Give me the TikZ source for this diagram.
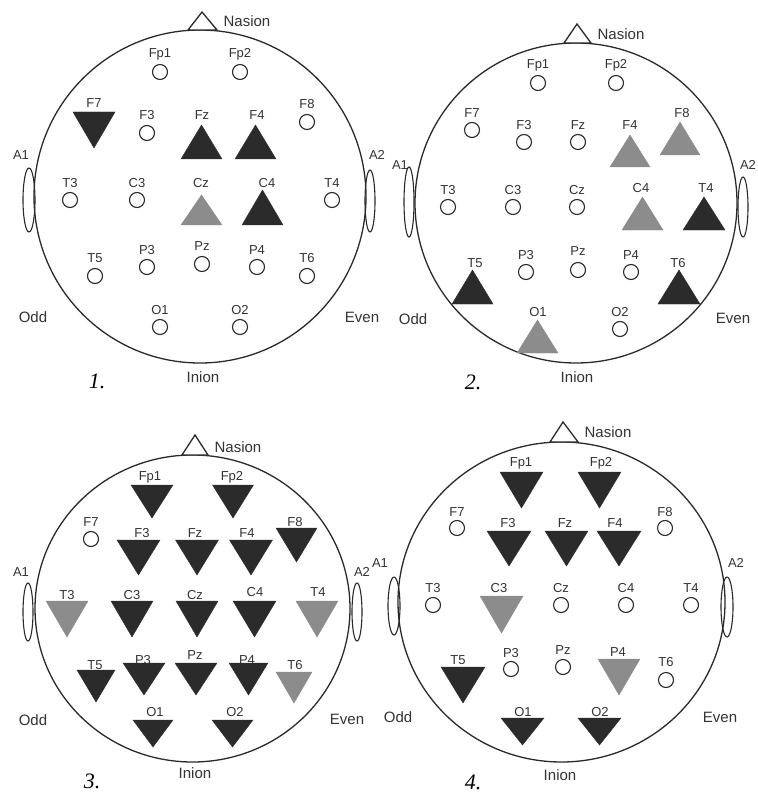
\documentclass[tikz,border=0pt]{standalone}
\usepackage{fontspec}
\setmainfont{Liberation Sans}
\newfontfamily\numfont{Liberation Serif}
\definecolor{dk}{HTML}{2B2B2B}
\definecolor{gr}{HTML}{8C8C8C}
\definecolor{ln}{HTML}{2A2A2A}
\definecolor{tx}{HTML}{333333}
\tikzset{
  lab/.style={inner sep=0pt, text=tx, font=\fontsize{13}{13}\selectfont},
  big/.style={inner sep=0pt, text=tx, font=\fontsize{15}{15}\selectfont},
  num/.style={inner sep=0pt, text=black, font=\numfont\itshape\fontsize{22}{22}\selectfont},
  elec/.style={circle, draw=ln, line width=1.1pt, minimum size=15pt, inner sep=0pt},
  head/.style={draw=ln, line width=1.3pt},
  ear/.style={draw=ln, line width=1.1pt},
  dkt/.style={fill=dk, draw=dk, line width=0.4pt},
  grt/.style={fill=gr, draw=gr, line width=0.4pt},
}
% electrode label + circle: name, x, label y, circle y, text
\newcommand{\ecl}[5]{\node[lab] (#1l) at (#2,#3) {#5}; \node[elec] (#1) at (#2,#4) {};}
% label only
\newcommand{\elb}[4]{\node[lab] (#1l) at (#2,#3) {#4};}
% up triangle: style, cx, half width, apex y, base y
\newcommand{\tup}[5]{\filldraw[#1] ({#2-#3},#5) -- (#2,#4) -- ({#2+#3},#5) -- cycle;}
% down triangle: style, cx, half width, top y, apex y
\newcommand{\tdn}[5]{\filldraw[#1] ({#2-#3},#4) -- ({#2+#3},#4) -- (#2,#5) -- cycle;}
\begin{document}
\begin{tikzpicture}[x=1pt,y=-1pt]
\useasboundingbox[fill=white] (0,0) rectangle (757,794);

%================ Panel 1
\draw[head] (200,196.5) ellipse[x radius=166pt, y radius=166.5pt];
\draw[head,fill=white] (188,30) -- (202,12) -- (217,30) -- cycle;
\node[big] (p1nas) at (247,21) {Nasion};
\draw[ear] (29,200) ellipse[x radius=6pt, y radius=32pt];
\draw[ear] (370,201) ellipse[x radius=5pt, y radius=31pt];
\node[lab] (p1a1) at (21,155) {A1};
\node[lab] (p1a2) at (377,155) {A2};
\node[big] (p1odd) at (33,317) {Odd};
\node[big] (p1even) at (362,317) {Even};
\node[big] (p1inion) at (203,377) {Inion};
\node[num] (p1num) at (97,381) {1.};
\tdn{dkt}{94}{21}{112}{148}
\tup{dkt}{201.5}{20.5}{125}{159}
\tup{dkt}{255.5}{20.5}{125}{159}
\tup{grt}{201.5}{20.5}{195}{225}
\tup{dkt}{262.5}{20.5}{190}{225}
\ecl{p1Fp1}{160}{54}{72}{Fp1}
\ecl{p1Fp2}{240}{54}{72}{Fp2}
\elb{p1F7}{94}{103}{F7}
\ecl{p1F3}{147}{115}{133}{F3}
\elb{p1Fz}{202}{115}{Fz}
\elb{p1F4}{257}{115}{F4}
\ecl{p1F8}{307}{104}{122}{F8}
\ecl{p1T3}{70}{183}{200}{T3}
\ecl{p1C3}{137}{183}{200}{C3}
\elb{p1Cz}{201}{183}{Cz}
\elb{p1C4}{267}{183}{C4}
\ecl{p1T4}{332}{183}{200}{T4}
\ecl{p1T5}{95}{258}{276}{T5}
\ecl{p1P3}{147}{250}{267}{P3}
\ecl{p1Pz}{202}{246}{264}{Pz}
\ecl{p1P4}{257}{250}{267}{P4}
\ecl{p1T6}{307}{258}{276}{T6}
\ecl{p1O1}{160}{310}{327}{O1}
\ecl{p1O2}{240}{310}{327}{O2}

%================ Panel 2
\draw[head] (576,203) ellipse[x radius=161pt, y radius=160pt];
\draw[head,fill=white] (564,43) -- (577,24) -- (591,43) -- cycle;
\node[big] (p2nas) at (621,34) {Nasion};
\draw[ear] (409,202) ellipse[x radius=5pt, y radius=35pt];
\draw[ear] (743,207) ellipse[x radius=5pt, y radius=30pt];
\node[lab] (p2a1) at (400,165) {A1};
\node[lab] (p2a2) at (748,165) {A2};
\node[big] (p2odd) at (413,319) {Odd};
\node[big] (p2even) at (733,318) {Even};
\node[big] (p2inion) at (577,377) {Inion};
\node[num] (p2num) at (473,382) {2.};
\tup{grt}{630}{20}{135}{167}
\tup{grt}{680}{20}{122}{155}
\tup{grt}{642.5}{20.5}{197}{230}
\tup{dkt}{704}{21}{197}{230}
\tup{dkt}{472.5}{20.5}{270}{304}
\tup{dkt}{679}{21}{270}{304}
\tup{grt}{537.5}{20.5}{320}{353}
\ecl{p2Fp1}{538}{65}{83}{Fp1}
\ecl{p2Fp2}{616}{65}{83}{Fp2}
\ecl{p2F7}{472}{113}{130}{F7}
\ecl{p2F3}{524}{125}{142}{F3}
\ecl{p2Fz}{578}{125}{142}{Fz}
\elb{p2F4}{630}{125}{F4}
\elb{p2F8}{682}{113}{F8}
\ecl{p2T3}{448}{190}{207}{T3}
\ecl{p2C3}{513}{190}{207}{C3}
\ecl{p2Cz}{577}{190}{207}{Cz}
\elb{p2C4}{641}{188}{C4}
\elb{p2T4}{706}{188}{T4}
\elb{p2T5}{475}{263}{T5}
\ecl{p2P3}{526}{255}{272}{P3}
\ecl{p2Pz}{578}{251}{270}{Pz}
\ecl{p2P4}{631}{255}{272}{P4}
\elb{p2T6}{678}{263}{T6}
\elb{p2O1}{538}{312}{O1}
\ecl{p2O2}{620}{312}{329}{O2}

%================ Panel 3
\draw[head] (192.5,608.5) ellipse[x radius=157.5pt, y radius=153.5pt];
\draw[head,fill=white] (182,455) -- (195,435) -- (208,455) -- cycle;
\node[big] (p3nas) at (238,447) {Nasion};
\draw[ear] (28,612) ellipse[x radius=5pt, y radius=29pt];
\draw[ear] (357,612) ellipse[x radius=5pt, y radius=29pt];
\node[lab] (p3a1) at (21,572) {A1};
\node[lab] (p3a2) at (362,572) {A2};
\node[big] (p3odd) at (33,720) {Odd};
\node[big] (p3even) at (347,719) {Even};
\node[big] (p3inion) at (195,773) {Inion};
\node[num] (p3num) at (92,781) {3.};
\tdn{dkt}{152}{21}{485}{518}
\tdn{dkt}{233}{20.5}{485}{518}
\tdn{dkt}{138.5}{21.5}{540}{575}
\tdn{dkt}{197}{21.5}{540}{575}
\tdn{dkt}{251}{21.5}{540}{575}
\tdn{dkt}{296.5}{20.5}{528}{562}
\tdn{grt}{67}{21}{601}{637}
\tdn{dkt}{132}{21}{601}{637}
\tdn{dkt}{197}{21}{601}{637}
\tdn{dkt}{254.5}{21.5}{601}{637}
\tdn{grt}{317}{21}{601}{637}
\tdn{dkt}{96}{19}{670}{702}
\tdn{dkt}{144}{21}{663}{695}
\tdn{dkt}{196}{21}{663}{695}
\tdn{dkt}{248.5}{19.5}{663}{695}
\tdn{grt}{294}{18}{672}{703}
\tdn{dkt}{153}{20}{720}{747}
\tdn{dkt}{232.5}{20.5}{720}{747}
\elb{p3Fp1}{150}{477}{Fp1}
\elb{p3Fp2}{232}{477}{Fp2}
\ecl{p3F7}{91}{522}{539}{F7}
\elb{p3F3}{142}{533}{F3}
\elb{p3Fz}{195}{533}{Fz}
\elb{p3F4}{247}{533}{F4}
\elb{p3F8}{295}{522}{F8}
\elb{p3T3}{67}{595}{T3}
\elb{p3C3}{132}{595}{C3}
\elb{p3Cz}{195}{595}{Cz}
\elb{p3C4}{255}{592}{C4}
\elb{p3T4}{318}{592}{T4}
\elb{p3T5}{95}{665}{T5}
\elb{p3P3}{143}{660}{P3}
\elb{p3Pz}{195}{655}{Pz}
\elb{p3P4}{247}{660}{P4}
\elb{p3T6}{295}{665}{T6}
\elb{p3O1}{155}{712}{O1}
\elb{p3O2}{235}{712}{O2}

%================ Panel 4
\draw[head] (561.5,602) ellipse[x radius=163.5pt, y radius=160pt];
\draw[head,fill=white] (550,442) -- (563,422) -- (578,442) -- cycle;
\node[big] (p4nas) at (608,432) {Nasion};
\draw[ear] (394,606) ellipse[x radius=6pt, y radius=29pt];
\draw[ear] (727,607) ellipse[x radius=6pt, y radius=30pt];
\node[lab] (p4a1) at (380,563) {A1};
\node[lab] (p4a2) at (736,563) {A2};
\node[big] (p4odd) at (398,717) {Odd};
\node[big] (p4even) at (720,717) {Even};
\node[big] (p4inion) at (560,775) {Inion};
\node[num] (p4num) at (473,782) {4.};
\tdn{dkt}{521.5}{21.5}{472}{508}
\tdn{dkt}{599.5}{21.5}{472}{508}
\tdn{dkt}{509}{22}{531}{566}
\tdn{dkt}{566.5}{21.5}{531}{566}
\tdn{dkt}{619}{22}{531}{566}
\tdn{grt}{501.5}{21.5}{596}{633}
\tdn{dkt}{463}{22}{667}{703}
\tdn{grt}{619}{21}{659}{695}
\tdn{dkt}{522.5}{21.5}{718}{745}
\tdn{dkt}{599.5}{21.5}{718}{745}
\elb{p4Fp1}{521}{463}{Fp1}
\elb{p4Fp2}{601}{463}{Fp2}
\ecl{p4F7}{457}{512}{528}{F7}
\elb{p4F3}{508}{523}{F3}
\elb{p4Fz}{565}{523}{Fz}
\elb{p4F4}{615}{523}{F4}
\ecl{p4F8}{665}{512}{528}{F8}
\ecl{p4T3}{433}{588}{605}{T3}
\elb{p4C3}{499}{588}{C3}
\ecl{p4Cz}{561}{588}{605}{Cz}
\ecl{p4C4}{626}{588}{605}{C4}
\ecl{p4T4}{691}{588}{605}{T4}
\elb{p4T5}{458}{660}{T5}
\ecl{p4P3}{511}{653}{669}{P3}
\ecl{p4Pz}{563}{650}{667}{Pz}
\elb{p4P4}{618}{652}{P4}
\ecl{p4T6}{666}{662}{680}{T6}
\elb{p4O1}{523}{712}{O1}
\elb{p4O2}{600}{712}{O2}
\end{tikzpicture}
\end{document}
